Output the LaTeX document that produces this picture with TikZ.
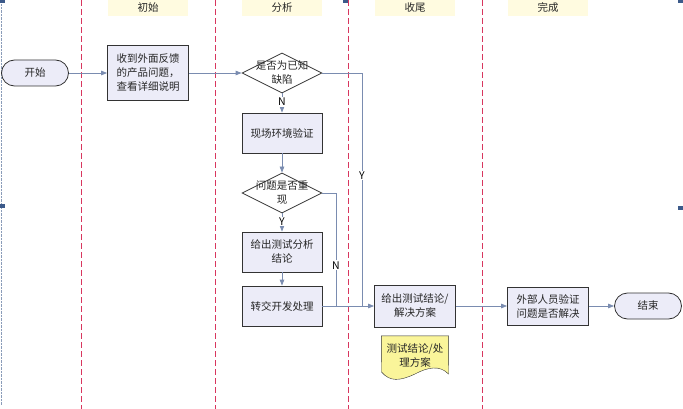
\documentclass[tikz,border=0pt]{standalone}
\usepackage{fontspec}
\setmainfont{Noto Sans CJK SC}
\usetikzlibrary{positioning,calc,arrows.meta,shapes.geometric,backgrounds}
\definecolor{lanered}{HTML}{D8365E}
\definecolor{flowblue}{HTML}{7A8CB0}
\definecolor{boxfill}{HTML}{ECECF8}
\definecolor{docyellow}{HTML}{FAF59A}
\definecolor{headfill}{HTML}{FFFBE0}
\definecolor{handle}{HTML}{3C5A8A}
\begin{document}
\begin{tikzpicture}[
  x=1pt, y=-1pt,
  font=\fontsize{10.5}{14}\selectfont, text=black!85,
  box/.style={draw=black!80, thick, fill=boxfill, align=center,
              minimum width=#1, minimum height=40pt, inner sep=1pt},
  box/.default=80pt,
  term/.style={draw=black!80, thick, fill=boxfill, rounded corners=13pt,
               minimum width=67pt, minimum height=26pt},
  dec/.style={diamond, draw=black!80, thick, fill=white, aspect=2,
              minimum width=80pt, minimum height=40pt, inner sep=0pt,
              label={[align=center, inner sep=0pt]center:#1}},
  lane/.style={lanered, line width=1pt, dash pattern=on 6pt off 3pt},
  head/.style={fill=headfill, minimum width=80pt, minimum height=15pt},
  arr/.style={-{Triangle[length=6pt,width=4.5pt]}, flowblue, thick},
  ln/.style={flowblue, thick},
  yn/.style={fill=white, inner sep=1pt, text=black}]
\useasboundingbox (0,0) rectangle (683,409);
% swim lanes
\foreach \lx in {81.5,215.5,348.5,482.5}
  \draw[lane] (\lx,0) -- (\lx,409);
\node[head] (h1) at (148,7.5) {初始};
\node[head] (h2) at (282,7.5) {分析};
\node[head] (h3) at (415,7.5) {收尾};
\node[head] (h4) at (548,7.5) {完成};
% frame handles
\draw[handle!60, densely dotted] (1,4) -- (1,405);
\foreach \hx/\hy in {2/1.5,345/1.5,680/1.5,2.5/206,680/208}
  \fill[handle] (\hx-2.5,\hy-2) rectangle (\hx+2.5,\hy+2);
% nodes
\node[term] (start) at (35,73) {开始};
\node[box=81pt, minimum height=55pt] (recv) at (148,73) {收到外面反馈\\的产品问题，\\查看详细说明};
\node[dec={是否为已知\\缺陷}] (known) at (282,73) {};
\node[box] (env) at (282,133) {现场环境验证};
\node[dec={问题是否重\\现}] (repro) at (282,193) {};
\node[box] (ana) at (282,252) {给出测试分析\\结论};
\node[box] (dev) at (282,306) {转交开发处理};
\node[box=81pt, minimum height=42pt] (concl) at (415,306) {给出测试结论/\\解决方案};
\node[box=81pt, minimum height=38pt] (check) at (548,306) {外部人员验证\\问题是否解决};
\node[term] (stop) at (648,306) {结束};
\node[minimum width=67pt, minimum height=40pt, align=center, inner sep=0pt] (doc) at (415,356) {测试结论/处\\理方案};
\begin{scope}[on background layer]
\draw[black!80, fill=docyellow] (doc.north west) -- (doc.north east) -- (448.5,374)
  .. controls (440,365) and (428,367) .. (415,374)
  .. controls (400,381) and (390,382) .. (381.5,372) -- cycle;
\end{scope}
\coordinate (yj) at (362,306);
\coordinate (nj) at (336,306);
% connectors
\draw[arr] (start) -- (recv);
\draw[arr] (recv) -- (known);
\draw[arr] (known) -- node[yn, pos=0.45]{N} (env);
\draw[arr] (env) -- (repro);
\draw[arr] (repro) -- node[yn, pos=0.45]{Y} (ana);
\draw[arr] (ana) -- (dev);
\draw[ln] (known.east) -| node[yn, pos=0.72]{Y} (yj);
\draw[ln] (repro.east) -| node[yn, pos=0.82]{N} (nj);
\draw[arr] (dev) -- (concl);
\draw[arr] (concl) -- (check);
\draw[arr] (check) -- (stop);
\end{tikzpicture}
\end{document}
